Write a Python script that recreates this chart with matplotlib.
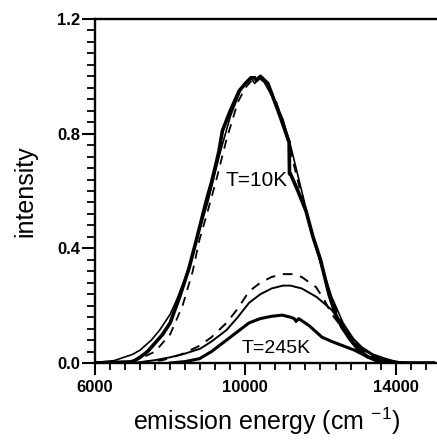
import matplotlib
matplotlib.use("Agg")
import matplotlib.pyplot as plt
from matplotlib.ticker import MultipleLocator, FixedLocator

plt.rcParams['font.family'] = ['Liberation Sans', 'DejaVu Sans']
plt.rcParams['mathtext.fontset'] = 'custom'
plt.rcParams['mathtext.rm'] = 'Liberation Sans'
plt.rcParams['mathtext.it'] = 'Liberation Sans'

# ---- data ----
e10_exp = [6000, 7000, 7200, 7400, 7600, 7800, 8000, 8250, 8500, 8700, 8970, 9100, 9230,
           9300, 9390, 9600, 9840, 10000, 10150, 10250, 10300, 10400, 10600, 10900, 11165,
           11175, 11200, 11400, 11615, 11800, 12000, 12225, 12400, 12570, 12800, 13020,
           13250, 13470, 13800, 14200, 15000]
i10_exp = [0.0, 0.004, 0.02, 0.04, 0.07, 0.10, 0.14, 0.23, 0.33, 0.43, 0.57, 0.63, 0.70,
           0.74, 0.81, 0.88, 0.95, 0.975, 0.995, 0.995, 0.985, 1.0, 0.975, 0.87, 0.77,
           0.66, 0.66, 0.60, 0.53, 0.44, 0.36, 0.24, 0.17, 0.125, 0.08, 0.045,
           0.022, 0.01, 0.003, 0.0, 0.0]

e10_fit = [6000, 6500, 7000, 7200, 7500, 7722, 8000, 8172, 8517, 8700, 9000, 9300, 9600,
           9900, 10150, 10250, 10350, 10500, 10800, 11000, 11200, 11500, 11800, 12000,
           12300, 12600, 12900, 13200, 13600, 14000, 14400, 15000]
i10_fit = [0.002, 0.008, 0.03, 0.045, 0.08, 0.115, 0.17, 0.22, 0.335, 0.43, 0.56, 0.72, 0.86,
           0.96, 0.995, 0.975, 0.995, 0.98, 0.91, 0.85, 0.76, 0.60, 0.44, 0.35,
           0.23, 0.14, 0.08, 0.04, 0.015, 0.005, 0.0, 0.0]

e10_dash = [6500, 6800, 7200, 7600, 8000, 8330, 8600, 8780, 9000, 9230, 9500, 9800, 10000,
            10200, 10400, 10600, 10800, 11000, 11200, 11500, 11800, 12000, 12300, 12600,
            12900, 13200, 13600, 14000]
i10_dash = [0.0, 0.003, 0.015, 0.04, 0.10, 0.20, 0.32, 0.43, 0.53, 0.64, 0.78, 0.91, 0.96,
            0.99, 1.0, 0.97, 0.92, 0.84, 0.74, 0.58, 0.44, 0.35, 0.22, 0.13,
            0.07, 0.035, 0.01, 0.0]

e245_exp = [8000, 8400, 8780, 9100, 9300, 9500, 9800, 10100, 10400, 10700, 10980, 11200,
            11300, 11350, 11420, 11700, 12040, 12300, 12600, 12900, 13200, 13500, 13800]
i245_exp = [0.0, 0.005, 0.015, 0.04, 0.06, 0.08, 0.11, 0.14, 0.155, 0.163, 0.167, 0.16,
            0.155, 0.145, 0.155, 0.13, 0.09, 0.075, 0.06, 0.045, 0.025, 0.008, 0.0]

e245_fit = [7000, 7200, 7600, 8000, 8400, 8800, 9100, 9500, 9800, 10100, 10400, 10700,
            11000, 11200, 11500, 11900, 12300, 12600, 12830, 13100, 13400, 13730, 14000, 14300]
i245_fit = [0.0, 0.003, 0.01, 0.02, 0.033, 0.05, 0.075, 0.115, 0.16, 0.21, 0.24, 0.26,
            0.27, 0.27, 0.26, 0.23, 0.185, 0.13, 0.09, 0.055, 0.03, 0.015, 0.005, 0.0]

e245_dash = [7200, 7800, 8300, 8780, 9100, 9500, 9800, 10100, 10400, 10700, 11000, 11250,
             11500, 11880, 12100, 12300, 12600, 12900, 13200, 13600, 14000]
i245_dash = [0.002, 0.01, 0.03, 0.06, 0.09, 0.14, 0.19, 0.25, 0.28, 0.30, 0.31, 0.31,
             0.30, 0.265, 0.22, 0.17, 0.12, 0.07, 0.04, 0.015, 0.003]

xticks = [6000, 10000, 14000]
yticks = [0.0, 0.4, 0.8, 1.2]
labels = ["T=10K", "T=245K"]

# ---- figure ----
fig = plt.figure(figsize=(4.37, 4.47), dpi=100)
ax = fig.add_axes([95 / 437, (447 - 363) / 447, (437 - 95) / 437, (363 - 19) / 447])

ax.plot(e10_exp, i10_exp, color='black', lw=2.6, solid_joinstyle='round')
ax.plot(e10_fit, i10_fit, color='black', lw=1.2)
ax.plot(e10_dash, i10_dash, color='black', lw=1.3, dashes=(5, 4))
ax.plot(e245_exp, i245_exp, color='black', lw=2.2, solid_joinstyle='round')
ax.plot(e245_fit, i245_fit, color='black', lw=1.4)
ax.plot(e245_dash, i245_dash, color='black', lw=1.4, dashes=(5, 4))

ax.text(10290, 0.635, labels[0], fontsize=15, ha='center', va='center')
ax.text(10820, 0.052, labels[1], fontsize=14, ha='center', va='center')

ax.set_xlim(6000, 15100)
ax.set_ylim(0.0, 1.2)

ax.spines['right'].set_visible(False)
for s in ['left', 'bottom', 'top']:
    ax.spines[s].set_linewidth(1.7)

ax.xaxis.set_major_locator(FixedLocator(xticks))
ax.xaxis.set_minor_locator(MultipleLocator(400))
ax.yaxis.set_major_locator(FixedLocator(yticks))
ax.yaxis.set_minor_locator(MultipleLocator(0.04))
ax.tick_params(axis='y', which='major', direction='out', length=9.5, width=1.5,
               labelsize=12, pad=1)
ax.tick_params(axis='y', which='minor', direction='out', length=5.5, width=1.3)
ax.tick_params(axis='x', which='major', direction='out', length=8.5, width=1.5,
               labelsize=12, pad=4)
ax.tick_params(axis='x', which='minor', direction='out', length=5, width=1.3)
ax.set_xticklabels([str(v) for v in xticks], fontweight='bold')
ax.set_yticklabels([f"{v:.1f}" for v in yticks], fontweight='bold')

fig.text(25 / 437, 1 - 191 / 447, "intensity", fontsize=18, rotation=90,
         ha='center', va='center')
fig.text(267 / 437, 1 - 421 / 447, r"emission energy (cm $^{\mathregular{-1}}$)",
         fontsize=18, ha='center', va='center')

fig.savefig("out.png", dpi=100)
